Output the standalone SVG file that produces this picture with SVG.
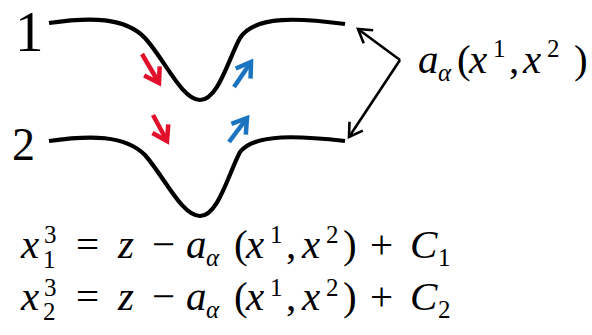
<svg xmlns="http://www.w3.org/2000/svg" width="592" height="335" viewBox="0 0 592 335">
<style>
.curve{fill:none;stroke:#000;stroke-width:4.2}
.red{stroke:#e3102b;stroke-width:4.5;fill:none}
.blue{stroke:#1b74bf;stroke-width:4.5;fill:none}
.blk{stroke:#000;stroke-width:2.6;fill:none}
.i{font-style:italic}
.m{font-size:41px}
.s{font-size:25px}
</style>
<defs>
<marker id="hr" markerUnits="userSpaceOnUse" viewBox="-20 -12 24 24" refX="0" refY="0" markerWidth="24" markerHeight="24" orient="auto">
<path d="M-14,-9 L0,0 L-14,9" fill="none" stroke="#e3102b" stroke-width="4.5"/>
</marker>
<marker id="hb" markerUnits="userSpaceOnUse" viewBox="-20 -12 24 24" refX="0" refY="0" markerWidth="24" markerHeight="24" orient="auto">
<path d="M-14,-9 L0,0 L-14,9" fill="none" stroke="#1b74bf" stroke-width="4.5"/>
</marker>
<marker id="hk" markerUnits="userSpaceOnUse" viewBox="-20 -12 24 24" refX="0" refY="0" markerWidth="24" markerHeight="24" orient="auto">
<path d="M-13,-8 L0,0 L-13,8" fill="none" stroke="#000" stroke-width="2.6"/>
</marker>
</defs>
<g id="curve1">
<path class="curve" d="M49,23 C90,17 125,17 145,38 C165,60 182,100 200,100 C218,100 228,60 240,38 C255,15 300,18 345,24"/>
<text font-family="'Liberation Serif', 'DejaVu Serif', serif" x="15" y="51" font-size="57">1</text>
</g>
<g id="curve2">
<path class="curve" d="M49,141 C90,135 125,135 145,155 C165,178 182,216 200,216 C218,216 228,175 240,152 C255,133 300,136 345,141"/>
<text font-family="'Liberation Serif', 'DejaVu Serif', serif" x="12" y="160" font-size="46">2</text>
</g>
<g id="label">
<text class="m" font-family="'Liberation Serif', 'DejaVu Serif', serif"><tspan class="i" x="418" y="73">a</tspan><tspan class="i s" x="438" y="81">α</tspan><tspan x="457" y="73">(</tspan><tspan class="i" x="469" y="73">x</tspan><tspan class="s" x="493" y="57">1</tspan><tspan x="509" y="73">,</tspan><tspan class="i" x="523" y="73">x</tspan><tspan class="s" x="547" y="57">2</tspan><tspan x="574" y="73">)</tspan></text>
</g>
<g id="connectors">
<path class="red" d="M142,54 L159,83" marker-end="url(#hr)"/>
<path class="red" d="M153,115 L167,141" marker-end="url(#hr)"/>
<path class="blue" d="M234,87 L251,62" marker-end="url(#hb)"/>
<path class="blue" d="M229,142 L247,118" marker-end="url(#hb)"/>
<path class="blk" d="M400,60 L358,29" marker-end="url(#hk)"/>
<path class="blk" d="M400,60 L349,137" marker-end="url(#hk)"/>
</g>
<g id="equations" font-family="'Liberation Serif', 'DejaVu Serif', serif">
<text class="m"><tspan class="i" x="21" y="258">x</tspan><tspan class="s" x="44" y="243">3</tspan><tspan class="s" x="43" y="268">1</tspan><tspan x="76" y="258">=</tspan><tspan class="i" x="118" y="258">z</tspan><tspan x="152" y="258">−</tspan><tspan class="i" x="186" y="258">a</tspan><tspan class="i s" x="206" y="266">α</tspan><tspan x="234" y="258">(</tspan><tspan class="i" x="246" y="258">x</tspan><tspan class="s" x="270" y="243">1</tspan><tspan x="286" y="258">,</tspan><tspan class="i" x="302" y="258">x</tspan><tspan class="s" x="326" y="243">2</tspan><tspan x="343" y="258">)</tspan><tspan x="370" y="258">+</tspan><tspan class="i" x="410" y="258">C</tspan><tspan class="s" x="438" y="266">1</tspan></text>
<text class="m"><tspan class="i" x="21" y="310">x</tspan><tspan class="s" x="44" y="296">3</tspan><tspan class="s" x="43" y="320">2</tspan><tspan x="76" y="310">=</tspan><tspan class="i" x="118" y="310">z</tspan><tspan x="152" y="310">−</tspan><tspan class="i" x="186" y="310">a</tspan><tspan class="i s" x="206" y="318">α</tspan><tspan x="234" y="310">(</tspan><tspan class="i" x="246" y="310">x</tspan><tspan class="s" x="270" y="296">1</tspan><tspan x="286" y="310">,</tspan><tspan class="i" x="302" y="310">x</tspan><tspan class="s" x="326" y="296">2</tspan><tspan x="343" y="310">)</tspan><tspan x="370" y="310">+</tspan><tspan class="i" x="410" y="310">C</tspan><tspan class="s" x="438" y="318">2</tspan></text>
</g>
</svg>
